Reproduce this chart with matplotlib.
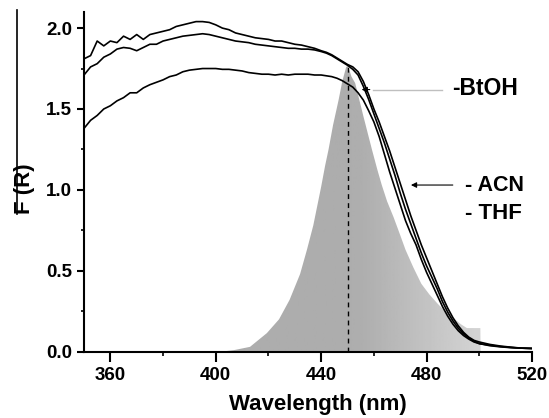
import numpy as np
import matplotlib
matplotlib.use("Agg")
import matplotlib.pyplot as plt
from matplotlib.lines import Line2D
from matplotlib.patches import Polygon
from matplotlib.colors import LinearSegmentedColormap

plt.rcParams['font.family'] = ['Liberation Sans', 'DejaVu Sans']
plt.rcParams['font.weight'] = 'bold'

# Kubelka-Munk curves (wavelength in nm)
wl_plateau = np.arange(350, 440.1, 2.5)
wl_drop = np.array([442, 444, 446, 448, 450, 452, 454, 456, 458, 460, 462, 464, 466, 468, 470,
                    472, 474, 476, 478, 480, 482, 484, 486, 488, 490, 492, 494, 496, 498, 500,
                    504, 508, 512, 516, 520])
wl = np.concatenate([wl_plateau, wl_drop])

thf = [1.81, 1.83, 1.92, 1.89, 1.92, 1.91, 1.95, 1.93, 1.96, 1.93, 1.96, 1.97, 1.98, 1.99,
       2.01, 2.02, 2.03, 2.04, 2.04, 2.035, 2.02, 2.00, 1.99, 1.97, 1.96, 1.95, 1.94, 1.935,
       1.93, 1.92, 1.92, 1.91, 1.90, 1.895, 1.885, 1.875, 1.86,
       1.85, 1.835, 1.815, 1.795, 1.775, 1.76, 1.73, 1.67, 1.59, 1.50, 1.42, 1.33, 1.24, 1.14,
       1.04, 0.94, 0.84, 0.75, 0.66, 0.58, 0.50, 0.42, 0.34, 0.27, 0.21, 0.16, 0.12, 0.09,
       0.07, 0.06, 0.045, 0.035, 0.028, 0.022, 0.02]

acn = [1.71, 1.76, 1.78, 1.82, 1.84, 1.87, 1.88, 1.875, 1.86, 1.88, 1.90, 1.90, 1.92, 1.93,
       1.94, 1.95, 1.955, 1.96, 1.965, 1.96, 1.95, 1.94, 1.93, 1.92, 1.915, 1.91, 1.90, 1.895,
       1.89, 1.885, 1.88, 1.875, 1.875, 1.87, 1.87, 1.865, 1.855,
       1.845, 1.83, 1.81, 1.79, 1.77, 1.745, 1.71, 1.64, 1.56, 1.47, 1.38, 1.29, 1.19, 1.09,
       0.98, 0.88, 0.79, 0.70, 0.61, 0.53, 0.46, 0.39, 0.31, 0.245, 0.19, 0.145, 0.11, 0.085,
       0.065, 0.05, 0.04, 0.032, 0.026, 0.022, 0.02]

btoh = [1.38, 1.43, 1.46, 1.50, 1.52, 1.55, 1.57, 1.60, 1.60, 1.63, 1.65, 1.665, 1.68, 1.70,
        1.71, 1.73, 1.74, 1.745, 1.75, 1.75, 1.75, 1.745, 1.745, 1.74, 1.735, 1.725, 1.72,
        1.715, 1.715, 1.71, 1.715, 1.71, 1.715, 1.715, 1.715, 1.71, 1.71,
        1.705, 1.70, 1.69, 1.675, 1.655, 1.635, 1.60, 1.555, 1.49, 1.42, 1.33, 1.22, 1.11, 1.01,
        0.91, 0.81, 0.73, 0.66, 0.57, 0.49, 0.42, 0.35, 0.28, 0.22, 0.17, 0.13, 0.10, 0.078,
        0.06, 0.05, 0.037, 0.03, 0.025, 0.022, 0.02]

# emission band of the light source (shaded)
em_wl = [402, 407, 413, 419.4, 424, 428, 432, 434.6, 437, 439, 440, 441.5, 442.8, 444.5,
         446.6, 448, 449.5, 450, 450.5, 451.5, 452.9, 456.1, 459.3, 461.4, 463, 465, 467.5,
         470, 472, 475, 478, 481, 484, 487, 490, 493, 495.3, 500.4, 500.5]
em_val = [0, 0.01, 0.03, 0.115, 0.2, 0.32, 0.48, 0.63, 0.78, 0.94, 1.02, 1.15, 1.25, 1.40,
          1.555, 1.67, 1.76, 1.765, 1.75, 1.70, 1.66, 1.45, 1.247, 1.12, 1.03, 0.93, 0.83,
          0.72, 0.63, 0.52, 0.42, 0.355, 0.30, 0.25, 0.21, 0.17, 0.146, 0.146, 0]

peak_wl = 450

fig = plt.figure(figsize=(5.49, 4.18), dpi=100)
ax = fig.add_axes([84 / 549, 1 - 351.7 / 418, 448 / 549, 339.8 / 418])
ax.set_xlim(350, 520)
ax.set_ylim(0, 2.1)

# shaded emission with a left-to-right grey gradient
poly = Polygon(np.column_stack([em_wl, em_val]), closed=True, facecolor='none', edgecolor='none')
ax.add_patch(poly)
gx = np.linspace(350, 520, 400)
shade = np.interp(gx, [350, 455, 500, 520], [0.67, 0.68, 0.83, 0.85])
cmap = LinearSegmentedColormap.from_list('g', [(0, 0, 0), (1, 1, 1)])
im = ax.imshow(shade[np.newaxis, :], extent=[350, 520, 0, 2.1], aspect='auto',
               cmap=cmap, vmin=0, vmax=1, origin='lower', zorder=1)
im.set_clip_path(poly)

ax.plot([peak_wl, peak_wl], [0, 1.77], color='black', lw=1, ls=(0, (3.5, 3)), zorder=2)

for y in (thf, acn, btoh):
    ax.plot(wl, y, color='black', lw=1.2, zorder=3)

# labels for the curves
ax.plot([459.5, 486], [1.62, 1.62], color='0.75', lw=1, zorder=2)
ax.annotate('', xy=(454.3, 1.62), xytext=(459.5, 1.62),
            arrowprops=dict(arrowstyle='-|>', color='black', lw=0.8, mutation_scale=8), zorder=4)
ax.text(489.8, 1.624, '-BtOH', fontsize=16.5, fontweight='bold', va='center', ha='left')

ax.annotate('', xy=(473, 1.03), xytext=(491, 1.03),
            arrowprops=dict(arrowstyle='-|>', color='black', lw=0.8, mutation_scale=8), zorder=4)
ax.text(494.7, 1.03, '- ACN', fontsize=15.5, fontweight='bold', va='center', ha='left')
ax.text(494.7, 0.857, '- THF', fontsize=16, fontweight='bold', va='center', ha='left')

ax.spines['top'].set_visible(False)
ax.spines['right'].set_visible(False)
ax.spines['left'].set_linewidth(1.5)
ax.spines['bottom'].set_linewidth(1.5)

ax.set_xticks([360, 400, 440, 480, 520])
ax.set_xticks([380, 420, 460, 500], minor=True)
ax.set_yticks([0.0, 0.5, 1.0, 1.5, 2.0])
ax.set_yticks([0.25, 0.75, 1.25, 1.75], minor=True)
ax.set_yticklabels(['0.0', '0.5', '1.0', '1.5', '2.0'])
ax.tick_params(axis='x', which='major', length=7, width=1.5, pad=4, labelsize=13.5)
ax.tick_params(axis='x', which='minor', length=3, width=1.2)
ax.tick_params(axis='y', which='major', length=5, width=1.5, pad=3.5, labelsize=13.5)
ax.tick_params(axis='y', which='minor', length=2.5, width=1.2)
for lab in ax.get_xticklabels() + ax.get_yticklabels():
    lab.set_fontweight('bold')

ax.set_xlabel('Wavelength (nm)', fontsize=16, fontweight='bold')
ax.xaxis.set_label_coords(0.522, -0.125)
ax.set_ylabel('F (R)', fontsize=16, fontweight='bold', va='center')
ax.yaxis.set_label_coords(-0.132, 0.48)

fig.add_artist(Line2D([16.5 / 549, 16.5 / 549], [1 - 10 / 418, 1 - 214 / 418],
                      color='black', lw=1.2))

fig.savefig('out.png', dpi=100)
